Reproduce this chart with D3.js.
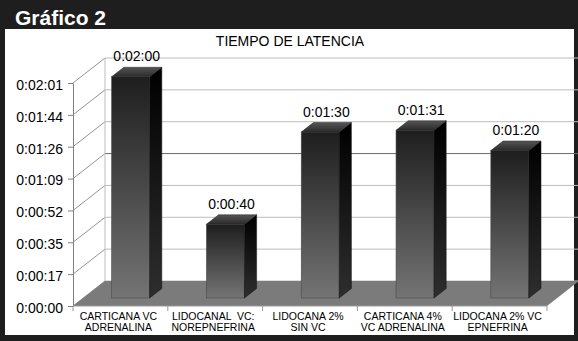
<!DOCTYPE html>
<html>
<head>
<meta charset="utf-8">
<script src="https://cdn.jsdelivr.net/npm/d3@7"></script>
<style>
  body { margin: 0; background: #fff; }
  text { font-family: "Liberation Sans", Arial, sans-serif; }
</style>
</head>
<body>
<div id="chart"></div>
<script>
// data
const categories = ["CARTICANA VC ADRENALINA", "LIDOCANAL VC NOREPNEFRINA", "LIDOCANA 2% SIN VC", "CARTICANA 4% VC ADRENALINA", "LIDOCANA 2% VC EPNEFRINA"];
const categoryLines = [
    ["CARTICANA VC", "ADRENALINA"],
    ["LIDOCANAL  VC:", "NOREPNEFRINA"],
    ["LIDOCANA 2%", "SIN VC"],
    ["CARTICANA 4%", "VC ADRENALINA"],
    ["LIDOCANA 2% VC", "EPNEFRINA"]
];
const latencySeconds = [120, 40, 90, 91, 80];
const valueLabels = ["0:02:00", "0:00:40", "0:01:30", "0:01:31", "0:01:20"];
const tickSeconds = [0, 17.28, 34.56, 51.84, 69.12, 86.4, 103.68, 120.96];
const tickLabels = ["0:00:00", "0:00:17", "0:00:35", "0:00:52", "0:01:09", "0:01:26", "0:01:44", "0:02:01"];

function drawChart() {
    const width = 578;
    const height = 341;
    const depth = { dx: 32, dy: -25 };   // 3d offset from front plane to back wall
    const barFront = 0.32, barBack = 0.7;
    const barWidth = 38;

    const svg = d3.select('#chart')
        .append('svg')
        .attr('width', width)
        .attr('height', height);

    const defs = svg.append('defs');
    function grad(id, c1, c2) {
        const g = defs.append('linearGradient').attr('id', id)
            .attr('x1', 0).attr('y1', 0).attr('x2', 0).attr('y2', 1);
        g.append('stop').attr('offset', '0%').attr('stop-color', c1);
        g.append('stop').attr('offset', '100%').attr('stop-color', c2);
    }
    grad('gFront', '#1e1e1e', '#747474');
    grad('gSide', '#000000', '#2e2e2e');
    grad('gTop', '#555555', '#2a2a2a');

    // frame
    svg.append('rect').attr('width', width).attr('height', height).attr('fill', '#1e1e1e');
    svg.append('rect').attr('x', 5).attr('y', 29).attr('width', 569).attr('height', 306).attr('fill', '#fff');
    svg.append('text')
        .attr('x', 15).attr('y', 25)
        .attr('fill', '#fff')
        .style('font-size', '21px').style('font-weight', 'bold')
        .text('Gráfico 2');

    svg.append('text')
        .attr('x', 290).attr('y', 46)
        .attr('text-anchor', 'middle')
        .style('font-size', '14px')
        .text('TIEMPO DE LATENCIA');

    const xScale = d3.scaleBand()
        .domain(categories)
        .range([73, 547]);

    const yScale = d3.scaleLinear()
        .domain([0, 120.96])
        .range([306, 83]);

    const plot = svg.append('g');

    // gridlines on back wall and side wall
    tickSeconds.forEach(t => {
        const yy = yScale(t);
        const col = t === 69.12 ? '#6a6a6a' : '#bdbdbd';
        plot.append('line')
            .attr('x1', 73 + depth.dx).attr('y1', yy + depth.dy)
            .attr('x2', 580).attr('y2', yy + depth.dy)
            .attr('stroke', col).attr('stroke-width', 1);
        plot.append('line')
            .attr('x1', 73).attr('y1', yy)
            .attr('x2', 73 + depth.dx).attr('y2', yy + depth.dy)
            .attr('stroke', '#666').attr('stroke-width', 0.7);
    });
    plot.append('line')
        .attr('x1', 73 + depth.dx).attr('y1', yScale(0) + depth.dy)
        .attr('x2', 73 + depth.dx).attr('y2', yScale(120.96) + depth.dy)
        .attr('stroke', '#bdbdbd');

    // floor
    plot.append('polygon')
        .attr('points', [
            [73, yScale(0)], [547, yScale(0)],
            [547 + depth.dx, yScale(0) + depth.dy], [73 + depth.dx, yScale(0) + depth.dy]
        ].join(' '))
        .attr('fill', '#7b7b7b');

    // bars
    const fdx = barFront * depth.dx, fdy = barFront * depth.dy;
    const ddx = (barBack - barFront) * depth.dx, ddy = (barBack - barFront) * depth.dy;

    const bars = plot.selectAll('g.bar')
        .data(categories.map((c, i) => ({ c, v: latencySeconds[i], label: valueLabels[i] })))
        .enter()
        .append('g')
        .attr('class', 'bar');

    bars.each(function (d) {
        const g = d3.select(this);
        const x0 = xScale(d.c) + (xScale.bandwidth() - barWidth) / 2 + fdx;
        const x1 = x0 + barWidth;
        const yb = yScale(0) + fdy;
        const yt = yScale(d.v) + fdy;

        g.append('rect')
            .attr('x', x0).attr('y', yt)
            .attr('width', barWidth).attr('height', yb - yt)
            .attr('fill', 'url(#gFront)')
            .attr('stroke', '#4a4a4a').attr('stroke-width', 0.6);
        g.append('polygon')
            .attr('points', [[x1, yt], [x1 + ddx, yt + ddy], [x1 + ddx, yb + ddy], [x1, yb]].join(' '))
            .attr('fill', 'url(#gSide)')
            .attr('stroke', '#111').attr('stroke-width', 0.5);
        g.append('polygon')
            .attr('points', [[x0, yt], [x0 + ddx, yt + ddy], [x1 + ddx, yt + ddy], [x1, yt]].join(' '))
            .attr('fill', 'url(#gTop)')
            .attr('stroke', '#222').attr('stroke-width', 0.5);

        g.append('text')
            .attr('x', x0 + (barWidth + ddx) / 2)
            .attr('y', yt + ddy - 6)
            .attr('text-anchor', 'middle')
            .style('font-size', '14px')
            .text(d.label);
    });

    // value axis
    const yAxis = d3.axisLeft(yScale)
        .tickValues(tickSeconds)
        .tickFormat((d, i) => tickLabels[i])
        .tickSize(5)
        .tickSizeOuter(0)
        .tickPadding(5);

    const yg = svg.append('g')
        .attr('transform', 'translate(73,0)')
        .call(yAxis);
    yg.select('.domain').attr('stroke', '#808080');
    yg.selectAll('.tick line').attr('stroke', '#808080');
    yg.selectAll('.tick text')
        .attr('dy', '0.45em')
        .style('font-size', '14px')
        .style('font-family', '"Liberation Sans", Arial, sans-serif')
        .attr('fill', '#000');

    // category axis
    const xg = svg.append('g');
    xg.append('line')
        .attr('x1', 73).attr('x2', 547)
        .attr('y1', yScale(0)).attr('y2', yScale(0))
        .attr('stroke', '#9a9a9a');
    const edges = categories.map(c => xScale(c)).concat([547]);
    xg.selectAll('line.tk')
        .data(edges)
        .enter()
        .append('line')
        .attr('class', 'tk')
        .attr('x1', d => d).attr('x2', d => d)
        .attr('y1', yScale(0)).attr('y2', yScale(0) + 5)
        .attr('stroke', '#9a9a9a');

    categories.forEach((c, i) => {
        const t = xg.append('text')
            .attr('text-anchor', 'middle')
            .attr('xml:space', 'preserve')
            .style('font-size', '10.5px');
        categoryLines[i].forEach((line, j) => {
            t.append('tspan')
                .attr('x', xScale(c) + xScale.bandwidth() / 2 - 2)
                .attr('y', 320 + j * 11)
                .text(line);
        });
    });
}

drawChart();
</script>
</body>
</html>
